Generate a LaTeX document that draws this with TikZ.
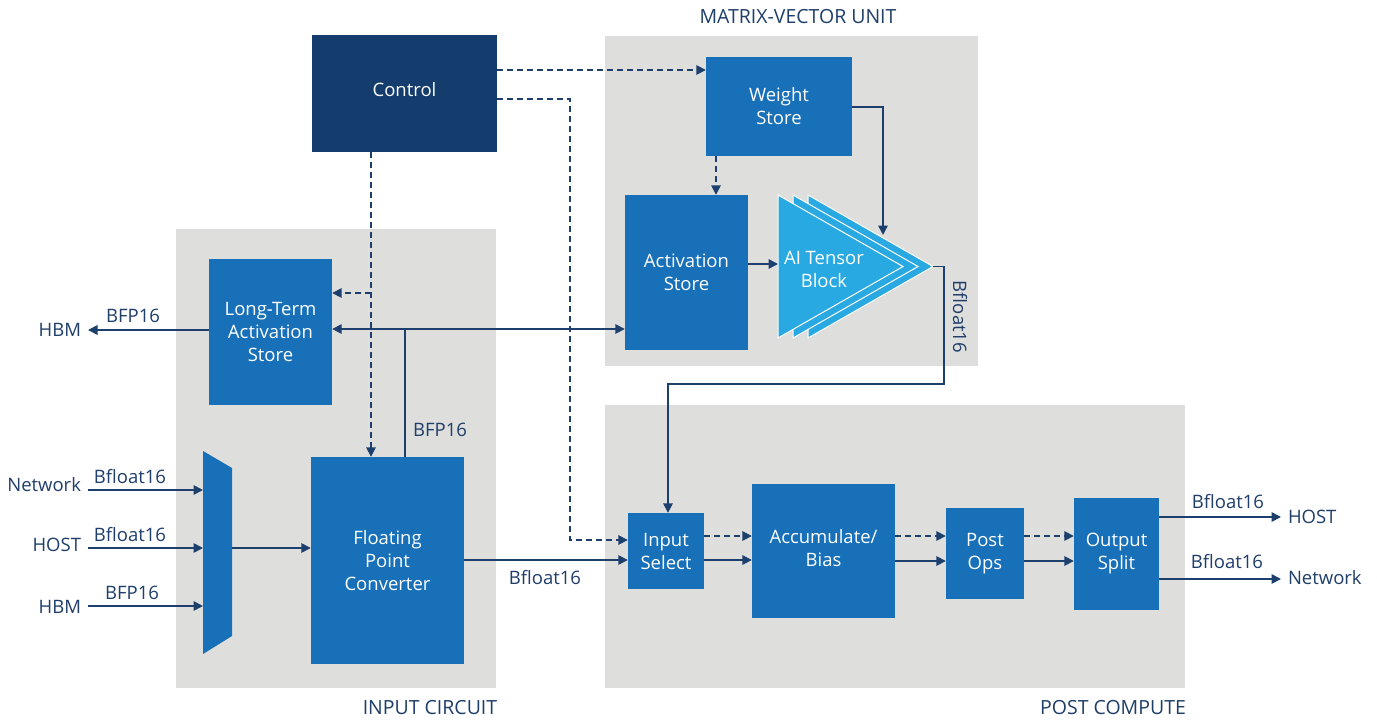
\documentclass[tikz,border=0pt]{standalone}
\usepackage{fontspec}
\setmainfont{Open Sans}
\usetikzlibrary{arrows.meta}
\definecolor{blk}{HTML}{1770B8}
\definecolor{navy}{HTML}{143D6D}
\definecolor{ln}{HTML}{1C3F6E}
\definecolor{txt}{HTML}{1F3E6A}
\definecolor{reg}{HTML}{DEDEDC}
\definecolor{tens}{HTML}{29A9E1}
\begin{document}
\begin{tikzpicture}[x=1pt,y=-1pt,
 box/.style={fill=blk, text=white, inner sep=0pt, align=center, font=\fontsize{18.5}{23}\selectfont},
 lab/.style={text=txt, inner sep=0pt, align=center, font=\fontsize{18.5}{22}\selectfont},
 reglab/.style={lab, font=\fontsize{19.5}{22}\selectfont},
 endlab/.style={lab, outer xsep=7pt},
 wire/.style={draw=ln, line width=1.7pt},
 conn/.style={wire, -{Triangle[length=9.5pt,width=9.5pt]}},
 dsh/.style={conn, dash pattern=on 6pt off 4pt},
 tri/.style={fill=tens, draw=white, line width=1pt, line join=miter},
]
\useasboundingbox (0,0) rectangle (1377,720);
\fill[white] (0,0) rectangle (1377,720);
% regions
\fill[reg] (176,229) rectangle (496,688);
\fill[reg] (605,36) rectangle (978,366);
\fill[reg] (605,405) rectangle (1185,688);
\node[reglab] (ric) at (430,708) {INPUT CIRCUIT};
\node[reglab] (rmv) at (798,17) {MATRIX-VECTOR UNIT};
\node[reglab] (rpc) at (1113,708) {POST COMPUTE};

% blocks
\node[box, fill=navy, minimum width=185pt, minimum height=117pt] (ctrl) at (404.5,93.5) {Control\\[-14pt]\mbox{}};
\node[box, minimum width=146pt, minimum height=99pt] (ws) at (779,106.5) {Weight\\Store};
\node[box, minimum width=123pt, minimum height=155pt] (as) at (686.5,272.5) {Activation\\Store};
\node[box, minimum width=123pt, minimum height=146pt] (ltas) at (270.5,332) {Long-Term\\Activation\\Store};
\node[box, minimum width=153pt, minimum height=207pt] (fpc) at (387.5,560.5) {Floating\\Point\\Converter};
\node[box, minimum width=76pt, minimum height=76pt] (is) at (666,551) {Input\\Select};
\node[box, minimum width=143pt, minimum height=134pt] (acc) at (823.5,551) {Accumulate/\\Bias\\[-17pt]\mbox{}};
\node[box, minimum width=78pt, minimum height=91pt] (po) at (985,553.5) {Post\\Ops};
\node[box, minimum width=85pt, minimum height=112pt] (os) at (1116.5,554) {Output\\Split};

% AI tensor block
\draw[tri] (808,195) -- (933,266.5) -- (808,338) -- cycle;
\draw[tri] (793,195) -- (918,266.5) -- (793,338) -- cycle;
\draw[tri] (778,195) -- (903,266.5) -- (778,338) -- cycle;
\node[box, fill=none] (tb) at (824,269.5) {AI Tensor\\Block};
\coordinate (tin) at (778,264);
\coordinate (tapex) at (933,266.5);
\coordinate (ttop) at (883,235);

% mux
\fill[blk] (203,451) -- (232,468) -- (232,636) -- (203,654) -- cycle;
\coordinate (muxin1) at (203,490);
\coordinate (muxin2) at (203,548);
\coordinate (muxin3) at (203,606);
\coordinate (muxout) at (232,548);

% control connectors
\draw[dsh] (ctrl.east |- 0,70) -- (ws.west |- 0,70);
\draw[dsh] (ctrl.east |- 0,99) -- (570,99) -- (570,540) -- (is.west |- 0,540);
\draw[dsh] (ctrl.south -| 371,0) -- (fpc.north -| 371,0);
\draw[dsh] (371,293) -- (ltas.east |- 0,293);
\draw[dsh] (ws.south -| 716,0) -- (as.north -| 716,0);

% matrix-vector unit
\draw[conn] (ws.east |- 0,107) -| (ttop);
\draw[conn] (as.east |- 0,264) -- (tin);
\draw[conn] (tapex) -- (944,266.5) -- (944,384) -- (668,384) -- (is.north -| 668,0);
\node[lab, rotate=-90] (lbf) at (960,317) {Bfloat16};

% activation bus
\draw[wire, {Triangle[length=9.5pt,width=9.5pt]}-{Triangle[length=9.5pt,width=9.5pt]}] (ltas.east |- 0,329) -- (as.west |- 0,329);
\draw[wire] (fpc.north -| 405,0) -- (405,329);
\node[lab, anchor=base] (lbfp) at (440,436) {BFP16};

% HBM out
\node[endlab, anchor=base east] (hbmo) at (88,336) {HBM};
\draw[conn] (ltas.west |- 0,330) -- (hbmo.east |- 0,330);
\node[lab, anchor=base] (lhbmo) at (133,322) {BFP16};

% inputs
\node[endlab, anchor=base east] (netin) at (88,491) {Network};
\node[endlab, anchor=base east] (hostin) at (88,551) {HOST};
\node[endlab, anchor=base east] (hbmin) at (88,613) {HBM};
\draw[conn] (netin.east |- 0,490) -- (muxin1);
\draw[conn] (hostin.east |- 0,548) -- (muxin2);
\draw[conn] (hbmin.east |- 0,606) -- (muxin3);
\node[lab, anchor=base] (l1) at (130,483) {Bfloat16};
\node[lab, anchor=base] (l2) at (130,541) {Bfloat16};
\node[lab, anchor=base] (l3) at (132,599) {BFP16};
\draw[conn] (muxout) -- (fpc.west |- 0,548);

% post compute
\draw[conn] (fpc.east |- 0,560) -- (is.west |- 0,560);
\node[lab, anchor=base] (l4) at (545,584) {Bfloat16};
\draw[dsh] (is.east |- 0,536) -- (acc.west |- 0,536);
\draw[conn] (is.east |- 0,560) -- (acc.west |- 0,560);
\draw[dsh] (acc.east |- 0,536) -- (po.west |- 0,536);
\draw[conn] (acc.east |- 0,561) -- (po.west |- 0,561);
\draw[dsh] (po.east |- 0,536) -- (os.west |- 0,536);
\draw[conn] (po.east |- 0,561) -- (os.west |- 0,561);

% outputs
\node[endlab, anchor=base west] (hosto) at (1281,523) {HOST};
\node[endlab, anchor=base west] (neto) at (1281,584) {Network};
\draw[conn] (os.east |- 0,517) -- (hosto.west |- 0,517);
\draw[conn] (os.east |- 0,579) -- (neto.west |- 0,579);
\node[lab, anchor=base] (l5) at (1228,508) {Bfloat16};
\node[lab, anchor=base] (l6) at (1227,568) {Bfloat16};
\end{tikzpicture}
\end{document}
